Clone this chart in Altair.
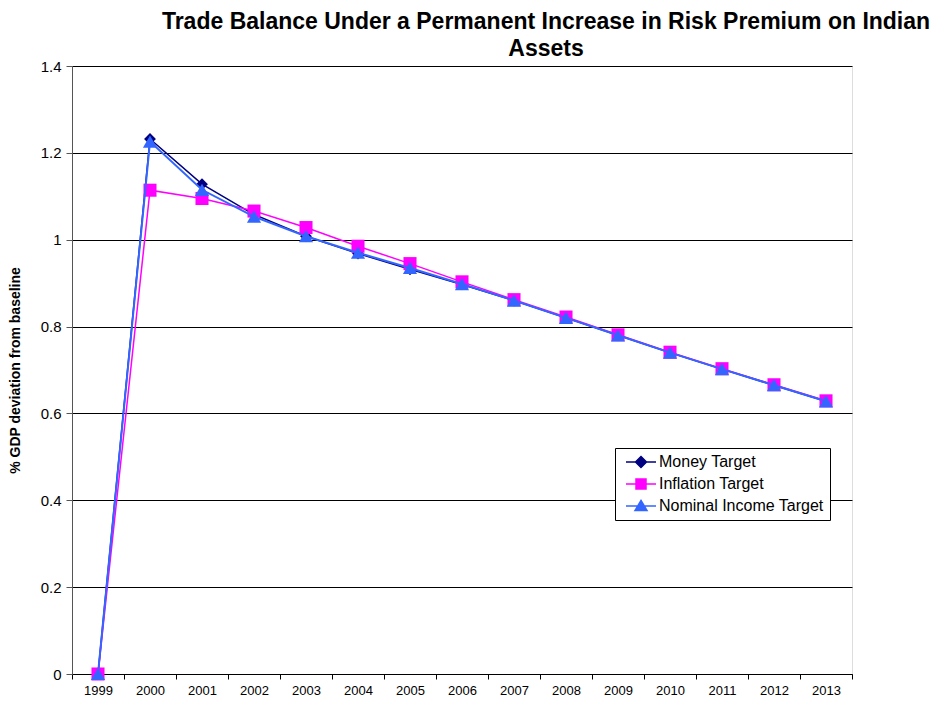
import altair as alt
import pandas as pd

years = [str(y) for y in range(1999, 2014)]
money = [0, 1.232, 1.128, 1.058, 1.008, 0.968, 0.932, 0.897, 0.860, 0.820, 0.780, 0.740, 0.702, 0.665, 0.628]
inflation = [0, 1.114, 1.095, 1.066, 1.028, 0.985, 0.945, 0.903, 0.862, 0.822, 0.781, 0.741, 0.703, 0.666, 0.629]
nominal = [0, 1.226, 1.115, 1.053, 1.008, 0.970, 0.935, 0.898, 0.860, 0.820, 0.780, 0.740, 0.702, 0.665, 0.628]

series_names = ["Money Target", "Inflation Target", "Nominal Income Target"]
colors = ["#000080", "#FF00FF", "#3366FF"]
shapes = ["diamond", "square", "triangle-up"]
sizes = [140, 170, 200]
widths = [1.5, 1.5, 2]
legend_paths = [
    "M-3,0H3M0,-1.1L1.1,0L0,1.1L-1.1,0Z",
    "M-3,0H3M-1,-1H1V1H-1Z",
    "M-3,0H3M0,-1.1L1.2,0.9H-1.2Z",
]

rows = []
for name, vals in zip(series_names, [money, inflation, nominal]):
    for yr, v in zip(years, vals):
        rows.append({"year": yr, "value": v, "series": name})
df = pd.DataFrame(rows)

FONT = "Liberation Sans"

x_enc = alt.X(
    "year:O",
    scale=alt.Scale(type="band", domain=years, paddingInner=0, paddingOuter=0),
    axis=alt.Axis(
        title=None, tickBand="extent", labelAngle=0, labelFontSize=13, labelFont=FONT,
        labelColor="black", domainColor="black", tickColor="black", tickSize=5,
        labelPadding=5, grid=False, domainWidth=1,
    ),
)
y_enc = alt.Y(
    "value:Q",
    scale=alt.Scale(domain=[0, 1.4], nice=False, zero=True),
    axis=alt.Axis(
        title="% GDP deviation from baseline", titleFontSize=14, titleFont=FONT,
        titleFontWeight="bold", titleColor="black", titleX=-57, titleBaseline="middle",
        values=[0, 0.2, 0.4, 0.6, 0.8, 1.0, 1.2, 1.4], format=".1~f",
        labelFontSize=15, labelFont=FONT, labelColor="black", labelPadding=5,
        tickSize=6, tickColor="#555555", domainColor="#555555",
        grid=True, gridColor="black", gridWidth=1,
    ),
)

layers = []
for name, col, shp, sz, w in zip(series_names, colors, shapes, sizes, widths):
    base = alt.Chart(df).transform_filter(alt.datum.series == name)
    layers.append(base.mark_line(color=col, strokeWidth=w).encode(x=x_enc, y=y_enc))
    layers.append(
        base.mark_point(filled=True, color=col, shape=shp, size=sz, opacity=1).encode(x=x_enc, y=y_enc)
    )

leg = alt.Legend(
    title=None, orient="none", legendX=543, legendY=382, fillColor="white",
    strokeColor="black", padding=6, labelFontSize=16, labelFont=FONT, labelColor="black",
    labelLimit=300, symbolSize=100, symbolStrokeWidth=1.5, symbolOffset=12, labelOffset=10,
    rowPadding=5,
)
legend_layer = (
    alt.Chart(df)
    .transform_filter("false")
    .mark_point(filled=True, opacity=1)
    .encode(
        x=x_enc,
        y=y_enc,
        fill=alt.Fill("series:N", scale=alt.Scale(domain=series_names, range=colors), legend=leg),
        stroke=alt.Stroke("series:N", scale=alt.Scale(domain=series_names, range=colors), legend=leg),
        shape=alt.Shape("series:N", scale=alt.Scale(domain=series_names, range=legend_paths), legend=leg),
    )
)
layers.append(legend_layer)

chart = (
    alt.layer(*layers)
    .properties(
        width=780,
        height=608,
        title=alt.Title(
            text=["Trade Balance Under a Permanent Increase in Risk Premium on Indian", "Assets"],
            font=FONT, fontSize=23, fontWeight="bold", color="black", anchor="middle",
            dx=84, dy=6, lineHeight=27, offset=4, limit=940,
        ),
        autosize=alt.AutoSizeParams(type="none"),
        padding={"left": 64, "top": 58, "right": 81, "bottom": 27},
    )
    .configure_view(stroke="#b0b0b0", strokeWidth=1)
    .configure(background="white")
)

chart.save("out.html", embed_options={"renderer": "svg", "actions": False})
